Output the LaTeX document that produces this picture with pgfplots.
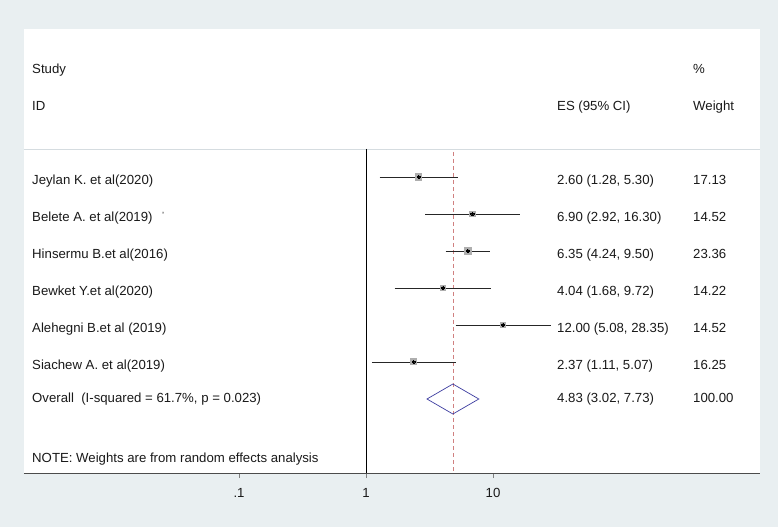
\documentclass[border=0pt]{standalone}
\usepackage{pgfplots}
\pgfplotsset{compat=1.18}
\usepackage{fontspec}
\setmainfont{Liberation Sans}
\definecolor{bgc}{HTML}{E9EFF1}
\definecolor{sepc}{HTML}{D5DCE0}
\definecolor{dashc}{HTML}{D08080}
\definecolor{diamc}{HTML}{3C3CA0}
\definecolor{boxc}{HTML}{AEAEAE}
\definecolor{txt}{HTML}{1A1A1A}
\begin{document}
\begin{tikzpicture}[x=1pt,y=1pt]
\fill[bgc] (0,0) rectangle (778,527);
\begin{axis}[
  at={(24pt,54pt)}, anchor=south west,
  scale only axis, width=736pt, height=444pt,
  xmode=log, xmin=0.002028, xmax=1265,
  ymin=-473, ymax=-29,
  axis background/.style={fill=white},
  axis y line=none,
  axis x line=bottom,
  x axis line style={-, draw=black!70, line width=0.6pt},
  xtick={0.1,1,10}, xticklabels={.1,1,10},
  xminorticks=false, minor tick num=0,
  xtick align=outside, major tick length=5pt,
  tick style={draw=black!50, line width=0.7pt},
  /pgf/number format/assume math mode=true,
  xticklabel style={font=\fontsize{13.2}{15}\selectfont, text=txt, yshift=-7pt},
  clip=false,
]
% separator line
\draw[sepc, line width=0.8pt] (axis cs:0.002028,-149) -- (axis cs:1265,-149);
% null line
\addplot[black, line width=0.6pt] coordinates {(1,-149) (1,-473)};
% overall dashed line
\addplot[dashc, line width=0.6pt, dash pattern=on 4pt off 3pt] coordinates {(4.83,-152) (4.83,-473)};
% CIs
\addplot[black!85, line width=0.6pt] coordinates {(1.28,-177) (5.30,-177)};
\addplot[black!85, line width=0.6pt] coordinates {(2.92,-214) (16.30,-214)};
\addplot[black!85, line width=0.6pt] coordinates {(4.24,-251) (9.50,-251)};
\addplot[black!85, line width=0.6pt] coordinates {(1.68,-288) (9.72,-288)};
\addplot[black!85, line width=0.6pt] coordinates {(5.08,-325) (28.35,-325)};
\addplot[black!85, line width=0.6pt] coordinates {(1.11,-362) (5.07,-362)};
% weight boxes
\addplot[only marks, mark=square*, mark size=3.1pt, color=boxc, mark options={fill=boxc, draw=boxc, line width=0pt}] coordinates {(2.60,-177)};
\addplot[only marks, mark=square*, mark size=2.9pt, color=boxc, mark options={fill=boxc, draw=boxc, line width=0pt}] coordinates {(6.90,-214)};
\addplot[only marks, mark=square*, mark size=3.7pt, color=boxc, mark options={fill=boxc, draw=boxc, line width=0pt}] coordinates {(6.35,-251)};
\addplot[only marks, mark=square*, mark size=2.9pt, color=boxc, mark options={fill=boxc, draw=boxc, line width=0pt}] coordinates {(4.04,-288)};
\addplot[only marks, mark=square*, mark size=2.9pt, color=boxc, mark options={fill=boxc, draw=boxc, line width=0pt}] coordinates {(12.00,-325)};
\addplot[only marks, mark=square*, mark size=3.0pt, color=boxc, mark options={fill=boxc, draw=boxc, line width=0pt}] coordinates {(2.37,-362)};
% point estimates
\addplot[only marks, mark=*, mark size=1.6pt, color=black, mark options={fill=black, draw=black, line width=0pt}] coordinates {
(2.60,-177) (6.90,-214) (6.35,-251) (4.04,-288) (12.00,-325) (2.37,-362)};
% overall diamond
\addplot[diamc, line width=0.7pt] coordinates {(3.02,-399) (4.83,-384) (7.73,-399) (4.83,-414)} -- cycle;
\end{axis}
\begin{scope}[every node/.style={anchor=west, inner sep=0pt, text=txt, text height=9.6pt, text depth=2.8pt, font=\fontsize{13.2}{15}\selectfont}]
\node at (32,457) {Study};
\node at (32,420) {ID};
\node at (693,457) {\%};
\node at (693,420) {Weight};
\node at (557,420) {ES (95\% CI)};
\node at (32,346) {Jeylan K. et al(2020)};
\node at (32,309) {Belete A. et al(2019)};
\node at (162,312) {\fontsize{9}{10}\selectfont '};
\node at (32,272) {Hinsermu B.et al(2016)};
\node at (32,235) {Bewket Y.et al(2020)};
\node at (32,198) {Alehegni B.et al (2019)};
\node at (32,161) {Siachew A. et al(2019)};
\node at (32,128) {Overall\ \ (I-squared = 61.7\%, p = 0.023)};
\node at (32,68) {NOTE: Weights are from random effects analysis};
\node at (557,346) {2.60 (1.28, 5.30)};
\node at (557,309) {6.90 (2.92, 16.30)};
\node at (557,272) {6.35 (4.24, 9.50)};
\node at (557,235) {4.04 (1.68, 9.72)};
\node at (557,198) {12.00 (5.08, 28.35)};
\node at (557,161) {2.37 (1.11, 5.07)};
\node at (557,128) {4.83 (3.02, 7.73)};
\node at (693,346) {17.13};
\node at (693,309) {14.52};
\node at (693,272) {23.36};
\node at (693,235) {14.22};
\node at (693,198) {14.52};
\node at (693,161) {16.25};
\node at (693,128) {100.00};
\end{scope}
\end{tikzpicture}
\end{document}
